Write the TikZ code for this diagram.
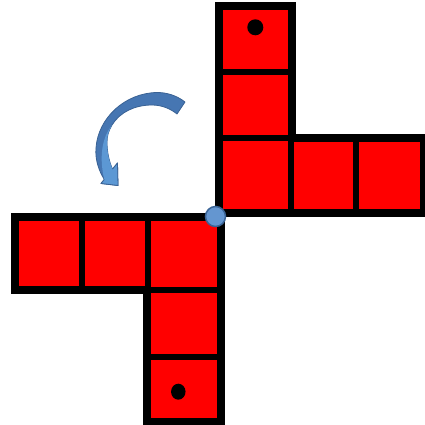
\documentclass[tikz,border=0pt]{standalone}
\usetikzlibrary{shapes.geometric}
\definecolor{cellred}{RGB}{255,0,0}
\definecolor{arrdark}{RGB}{70,118,178}
\definecolor{arrlight}{RGB}{92,152,212}
\definecolor{arredge}{RGB}{58,98,148}
\definecolor{hingefill}{RGB}{100,150,208}
\definecolor{hingeedge}{RGB}{58,100,150}
\tikzset{
  netfill/.style={fill=cellred},
  netedge/.style={draw=black, line width=8pt, line join=miter},
  divider/.style={draw=black, line width=6pt},
  dot/.style={ellipse, fill=black, inner sep=0pt},
}
\begin{document}
\begin{tikzpicture}[x=1pt,y=-1pt]
\useasboundingbox (0,0) rectangle (424,425);
% top-right net
\path[netfill] (218.5,6.3) -- (292.3,6.3) -- (292.3,138.2) -- (424,138.2) -- (424,212.5) -- (218.5,212.5) -- cycle;
\draw[divider] (218.5,72.2) -- (292.3,72.2);
\draw[divider] (218.5,138.2) -- (292.3,138.2);
\draw[divider] (290.5,138.2) -- (290.5,212.5);
\draw[divider] (356.3,138.2) -- (356.3,212.5);
\draw[netedge] (218.5,6.3) -- (292.3,6.3) -- (292.3,138.2) -- (424,138.2) -- (424,212.5) -- (218.5,212.5) -- cycle;
% bottom-left net
\path[netfill] (14.5,216.7) -- (220.5,216.7) -- (220.5,421.5) -- (146.7,421.5) -- (146.7,290) -- (14.5,290) -- cycle;
\draw[divider] (82.2,216.7) -- (82.2,290);
\draw[divider] (148.3,216.7) -- (148.3,290);
\draw[divider] (146.7,290) -- (220.5,290);
\draw[divider] (146.7,356.7) -- (220.5,356.7);
\draw[netedge] (14.5,216.7) -- (220.5,216.7) -- (220.5,421.5) -- (146.7,421.5) -- (146.7,290) -- (14.5,290) -- cycle;
% dots
\node[dot, minimum width=16pt, minimum height=16pt] (topdot) at (255.3,27.3) {};
\node[dot, minimum width=14.5pt, minimum height=16pt] (botdot) at (178.3,391.7) {};
% hinge
\node[circle, fill=hingefill, draw=hingeedge, line width=1.5pt, minimum size=20pt, inner sep=0pt] (hinge) at (215.5,216.5) {};
% curved arrow
\path[fill=arrdark, draw=arredge, line width=0.8pt, line join=round]
  (185,102) .. controls (176,95) and (166,92.5) .. (157,92.5)
  .. controls (125,93) and (98,118) .. (96,148)
  .. controls (95,160) and (99,171) .. (104.3,179.4)
  -- (101,183.5) -- (118,185.5) -- (117.5,163) -- (112.5,169.1)
  .. controls (109,161) and (107,152) .. (107,142)
  .. controls (107,136) and (108.5,131) .. (112,125)
  .. controls (120,112) and (135,105) .. (152,105)
  .. controls (162,105) and (171,109) .. (177,114) -- cycle;
\path[fill=arrlight]
  (112,125) .. controls (108.5,131) and (107,136) .. (107,142)
  .. controls (107,152) and (109,161) .. (112.5,169.1)
  -- (117.5,163) -- (118,185.5) -- (101,183.5) -- (104.3,179.4)
  .. controls (100,162) and (100,140) .. (112,125) -- cycle;
\draw[arredge, line width=0.8pt, line join=round]
  (112.5,169.1) -- (117.5,163) -- (118,185.5) -- (101,183.5) -- (104.3,179.4);
\end{tikzpicture}
\end{document}
